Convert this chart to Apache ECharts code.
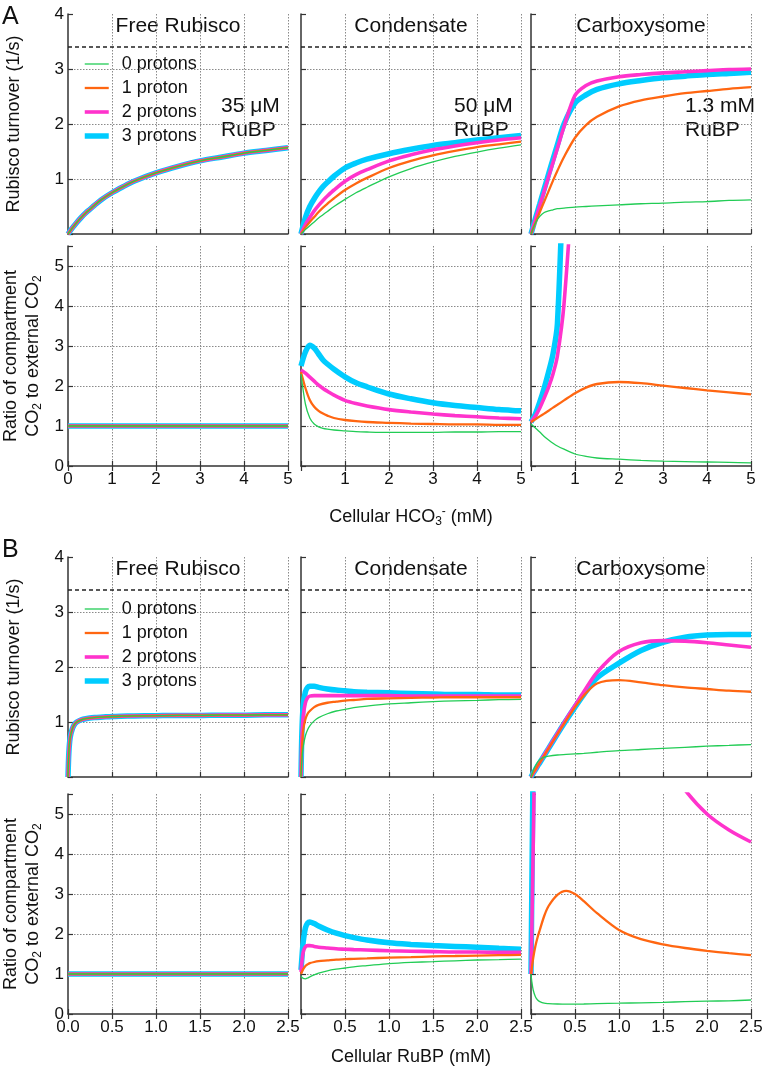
<!DOCTYPE html>
<html><head><meta charset="utf-8">
<script src="https://cdn.jsdelivr.net/npm/echarts@6/dist/echarts.min.js"></script>
<style>html,body{margin:0;padding:0;background:#fff}#c{width:762px;height:1070px}</style>
</head><body><div id="c"></div><script>
// ---------------- DATA ----------------
const seriesNames = ['0 protons', '1 proton', '2 protons', '3 protons'];
const panelTitles = ['Free Rubisco', 'Condensate', 'Carboxysome'];
const vmaxLine = 3.4; // dashed line value in turnover panels

// Section A: x = cellular HCO3- (mM)
const xA = [0, 0.1, 0.2, 0.3, 0.4, 0.5, 0.6, 0.75, 1, 1.25, 1.5, 2, 2.5, 3, 3.5, 4, 4.5, 5];
const aTurnFree  = [0, 0.11, 0.21, 0.30, 0.38, 0.45, 0.52, 0.62, 0.75, 0.86, 0.96, 1.11, 1.23, 1.33, 1.40, 1.47, 1.52, 1.57];
const aTurnCond3 = [0, 0.30, 0.50, 0.64, 0.76, 0.86, 0.94, 1.05, 1.20, 1.29, 1.36, 1.46, 1.54, 1.61, 1.66, 1.71, 1.75, 1.79];
const aTurnCond2 = [0, 0.17, 0.30, 0.42, 0.52, 0.61, 0.69, 0.80, 0.96, 1.08, 1.17, 1.33, 1.44, 1.53, 1.60, 1.66, 1.71, 1.75];
const aTurnCond1 = [0, 0.12, 0.22, 0.31, 0.40, 0.48, 0.55, 0.65, 0.80, 0.92, 1.02, 1.20, 1.33, 1.43, 1.51, 1.58, 1.63, 1.68];
const aTurnCond0 = [0, 0.08, 0.15, 0.22, 0.29, 0.35, 0.41, 0.50, 0.63, 0.75, 0.85, 1.04, 1.19, 1.31, 1.41, 1.49, 1.56, 1.62];
const aTurnCarb3 = [0, 0.28, 0.55, 0.82, 1.09, 1.36, 1.62, 2.00, 2.38, 2.53, 2.63, 2.73, 2.79, 2.84, 2.87, 2.90, 2.92, 2.94];
const aTurnCarb2 = [0, 0.26, 0.52, 0.78, 1.04, 1.30, 1.56, 1.95, 2.52, 2.70, 2.78, 2.86, 2.90, 2.93, 2.95, 2.97, 2.99, 3.00];
const aTurnCarb1 = [0, 0.20, 0.40, 0.59, 0.78, 0.97, 1.15, 1.40, 1.75, 1.98, 2.13, 2.32, 2.43, 2.50, 2.56, 2.60, 2.64, 2.67];
const aTurnCarb0 = [0, 0.20, 0.32, 0.39, 0.42, 0.44, 0.46, 0.47, 0.49, 0.50, 0.51, 0.53, 0.55, 0.56, 0.58, 0.59, 0.61, 0.62];
const aRatioFree  = [1, 1, 1, 1, 1, 1, 1, 1, 1, 1, 1, 1, 1, 1, 1, 1, 1, 1];
const aRatioCond3 = [2.50, 2.85, 3.02, 2.95, 2.80, 2.65, 2.55, 2.42, 2.23, 2.08, 1.98, 1.80, 1.68, 1.58, 1.51, 1.46, 1.41, 1.38];
const aRatioCond2 = [2.40, 2.32, 2.22, 2.12, 2.02, 1.94, 1.87, 1.77, 1.64, 1.56, 1.50, 1.41, 1.35, 1.30, 1.26, 1.23, 1.20, 1.18];
const aRatioCond1 = [2.35, 1.95, 1.65, 1.48, 1.38, 1.31, 1.26, 1.20, 1.15, 1.12, 1.10, 1.08, 1.06, 1.05, 1.04, 1.04, 1.03, 1.03];
const aRatioCond0 = [2.30, 1.55, 1.20, 1.05, 0.98, 0.94, 0.92, 0.90, 0.88, 0.86, 0.85, 0.84, 0.84, 0.84, 0.85, 0.85, 0.86, 0.86];
const aRatioCarb3 = [1.10, 1.30, 1.60, 1.95, 2.35, 2.80, 3.55, 8.0, null, null, null, null, null, null, null, null, null, null];
const aRatioCarb2 = [1.10, 1.25, 1.45, 1.70, 1.97, 2.30, 2.75, 4.05, 8.0, null, null, null, null, null, null, null, null, null];
const aRatioCarb1 = [1.10, 1.17, 1.24, 1.31, 1.38, 1.46, 1.53, 1.64, 1.82, 1.96, 2.05, 2.10, 2.07, 2.01, 1.95, 1.89, 1.84, 1.79];
const aRatioCarb0 = [1.05, 0.95, 0.85, 0.74, 0.65, 0.57, 0.50, 0.42, 0.30, 0.24, 0.20, 0.17, 0.14, 0.12, 0.11, 0.10, 0.09, 0.08];

// Section B: x = cellular RuBP (mM)
const xB = [0, 0.01, 0.025, 0.05, 0.075, 0.1, 0.15, 0.2, 0.3, 0.4, 0.5, 0.6, 0.75, 1, 1.25, 1.5, 1.75, 2, 2.25, 2.5];
const bTurnFree  = [0, 0.45, 0.72, 0.88, 0.96, 1.00, 1.04, 1.06, 1.08, 1.09, 1.10, 1.105, 1.11, 1.115, 1.12, 1.12, 1.125, 1.125, 1.13, 1.13];
const bTurnCond3 = [0, 0.80, 1.30, 1.55, 1.63, 1.65, 1.65, 1.63, 1.60, 1.58, 1.57, 1.55, 1.54, 1.53, 1.52, 1.51, 1.50, 1.50, 1.49, 1.49];
const bTurnCond2 = [0, 0.70, 1.10, 1.35, 1.44, 1.47, 1.48, 1.48, 1.48, 1.48, 1.48, 1.48, 1.48, 1.48, 1.47, 1.47, 1.47, 1.47, 1.47, 1.47];
const bTurnCond1 = [0, 0.50, 0.85, 1.05, 1.15, 1.20, 1.27, 1.31, 1.35, 1.37, 1.39, 1.40, 1.42, 1.43, 1.44, 1.445, 1.45, 1.45, 1.45, 1.45];
const bTurnCond0 = [0, 0.30, 0.55, 0.75, 0.86, 0.93, 1.02, 1.08, 1.15, 1.20, 1.23, 1.26, 1.29, 1.33, 1.35, 1.37, 1.385, 1.395, 1.405, 1.41];
const bTurnCarb3 = [0, 0.03, 0.07, 0.13, 0.20, 0.26, 0.39, 0.52, 0.78, 1.03, 1.27, 1.50, 1.80, 2.07, 2.30, 2.45, 2.54, 2.58, 2.59, 2.59];
const bTurnCarb2 = [0, 0.03, 0.07, 0.13, 0.20, 0.27, 0.40, 0.53, 0.79, 1.05, 1.30, 1.55, 1.90, 2.28, 2.44, 2.48, 2.47, 2.44, 2.40, 2.36];
const bTurnCarb1 = [0, 0.03, 0.07, 0.13, 0.20, 0.26, 0.39, 0.52, 0.78, 1.03, 1.27, 1.48, 1.70, 1.76, 1.72, 1.67, 1.63, 1.60, 1.57, 1.55];
const bTurnCarb0 = [0, 0.05, 0.12, 0.20, 0.27, 0.32, 0.36, 0.38, 0.40, 0.41, 0.42, 0.43, 0.45, 0.48, 0.50, 0.52, 0.54, 0.56, 0.575, 0.59];
const bRatioFree  = [1, 1, 1, 1, 1, 1, 1, 1, 1, 1, 1, 1, 1, 1, 1, 1, 1, 1, 1, 1];
const bRatioCond3 = [1.10, 1.40, 1.80, 2.15, 2.27, 2.30, 2.26, 2.20, 2.10, 2.02, 1.96, 1.91, 1.85, 1.78, 1.74, 1.71, 1.69, 1.67, 1.645, 1.62];
const bRatioCond2 = [1.05, 1.30, 1.55, 1.68, 1.71, 1.71, 1.69, 1.67, 1.65, 1.63, 1.62, 1.61, 1.60, 1.58, 1.57, 1.56, 1.55, 1.55, 1.54, 1.54];
const bRatioCond1 = [1.00, 1.05, 1.12, 1.20, 1.24, 1.27, 1.30, 1.32, 1.34, 1.36, 1.37, 1.38, 1.39, 1.41, 1.42, 1.44, 1.45, 1.46, 1.47, 1.48];
const bRatioCond0 = [0.95, 0.92, 0.89, 0.88, 0.90, 0.93, 0.98, 1.02, 1.08, 1.12, 1.15, 1.18, 1.21, 1.26, 1.29, 1.31, 1.33, 1.35, 1.36, 1.37];
const bRatioCarb3 = [1.0, 3.2, 6.5, 12, null, null, null, null, null, null, null, null, null, null, null, null, null, null, null, null];
const bRatioCarb2 = [1.0, 2.2, 4.2, 7.5, 9, 11, 13, 14, 14.5, 14, 13, 12, 10.5, 8.8, 7.5, 6.4, 5.6, 5.0, 4.6, 4.3];
const bRatioCarb1 = [1.00, 1.15, 1.40, 1.70, 1.92, 2.10, 2.45, 2.70, 2.98, 3.08, 3.00, 2.82, 2.52, 2.10, 1.87, 1.74, 1.65, 1.58, 1.52, 1.47];
const bRatioCarb0 = [1.00, 0.80, 0.60, 0.43, 0.35, 0.31, 0.27, 0.26, 0.25, 0.245, 0.245, 0.25, 0.26, 0.27, 0.28, 0.29, 0.31, 0.32, 0.33, 0.35];

// ---------------- STYLE / LAYOUT ----------------
const FONT = '"Liberation Sans", Arial, Helvetica, sans-serif';
const colors = ['#22cc55', '#ff6611', '#ff33cc', '#00ccff'];
const widths = [1.3, 2.3, 3.6, 5.5];
const AX = '#333';
const cols = [68, 301, 531];
const W = 220;
const rows = [
  { top: 14,  height: 220, ymax: 4,   sec: 'A', kind: 'turn' },
  { top: 246, height: 220, ymax: 5.5, sec: 'A', kind: 'ratio' },
  { top: 557, height: 220, ymax: 4,   sec: 'B', kind: 'turn' },
  { top: 794, height: 220, ymax: 5.5, sec: 'B', kind: 'ratio' }
];
const panelData = [
  [[aTurnFree, aTurnFree, aTurnFree, aTurnFree], [aTurnCond0, aTurnCond1, aTurnCond2, aTurnCond3], [aTurnCarb0, aTurnCarb1, aTurnCarb2, aTurnCarb3]],
  [[aRatioFree, aRatioFree, aRatioFree, aRatioFree], [aRatioCond0, aRatioCond1, aRatioCond2, aRatioCond3], [aRatioCarb0, aRatioCarb1, aRatioCarb2, aRatioCarb3]],
  [[bTurnFree, bTurnFree, bTurnFree, bTurnFree], [bTurnCond0, bTurnCond1, bTurnCond2, bTurnCond3], [bTurnCarb0, bTurnCarb1, bTurnCarb2, bTurnCarb3]],
  [[bRatioFree, bRatioFree, bRatioFree, bRatioFree], [bRatioCond0, bRatioCond1, bRatioCond2, bRatioCond3], [bRatioCarb0, bRatioCarb1, bRatioCarb2, bRatioCarb3]]
];

const grid = [], xAxis = [], yAxis = [], series = [];
let gi = 0;
rows.forEach((r, ri) => {
  cols.forEach((left, ci) => {
    const isA = r.sec === 'A';
    const xs = isA ? xA : xB;
    const xmax = isA ? 5 : 2.5, xint = isA ? 1 : 0.5;
    grid.push({ left: left, top: r.top, width: W, height: r.height, containLabel: false, outerBoundsMode: 'none' });
    const xi = xAxis.length;
    xAxis.push({
      type: 'value', gridIndex: gi, min: 0, max: xmax, interval: xint, position: 'bottom',
      axisLine: { show: true, onZero: false, lineStyle: { color: AX, width: 1.5 } },
      axisTick: { show: true, inside: true, length: 5, lineStyle: { color: AX, width: 1.2 } },
      axisLabel: { show: r.kind === 'ratio', fontSize: 17, color: '#111', fontFamily: FONT, margin: 5,
        formatter: v => (ci > 0 && v === 0) ? '' : (isA ? String(v) : v.toFixed(1)) },
      splitLine: { show: true, showMinLine: false, lineStyle: { type: [1.5, 1.5], color: '#8a8a8a', width: 1 } }
    });
    if (r.kind === 'ratio') {
      xAxis.push({
        type: 'value', gridIndex: gi, min: 0, max: xmax, interval: xint, position: 'top',
        axisLine: { show: false }, axisLabel: { show: false }, splitLine: { show: false },
        axisTick: { show: true, inside: true, length: 5, lineStyle: { color: AX, width: 1.2 } }
      });
    }
    yAxis.push({
      type: 'value', gridIndex: gi, min: 0, max: r.ymax, interval: 1,
      axisLine: { show: true, onZero: false, lineStyle: { color: AX, width: 1.5 } },
      axisTick: { show: true, inside: true, length: 5, lineStyle: { color: AX, width: 1.2 } },
      axisLabel: { show: ci === 0, fontSize: 17, color: '#111', fontFamily: FONT, margin: 4,
        formatter: v => (Number.isInteger(v) && !(r.kind === 'turn' && v === 0)) ? String(v) : '' },
      splitLine: { show: true, showMinLine: false, showMaxLine: false, lineStyle: { type: [1.5, 1.5], color: '#8a8a8a', width: 1 } }
    });
    const ys = panelData[ri][ci];
    [3, 2, 1, 0].forEach(p => {
      const s = {
        type: 'line', name: seriesNames[p], xAxisIndex: xi, yAxisIndex: gi,
        data: xs.map((xv, k) => [xv, ys[p][k]]),
        symbol: 'none', showSymbol: false, smooth: 0.3, clip: true, silent: true,
        connectNulls: false,
        lineStyle: { color: colors[p], width: widths[p] },
        itemStyle: { color: colors[p] },
        emphasis: { disabled: true }
      };
      if (p === 0 && r.kind === 'turn') {
        s.markLine = {
          silent: true, symbol: 'none', label: { show: false },
          lineStyle: { type: [4, 3], color: '#222', width: 1.5 },
          emphasis: { disabled: true },
          data: [{ yAxis: vmaxLine }]
        };
      }
      series.push(s);
    });
    gi++;
  });
});

const legendBase = (top) => ({
  left: 82, top: top, orient: 'vertical', itemWidth: 24, itemHeight: 14, itemGap: 4, padding: 0,
  selectedMode: false,
  textStyle: { fontSize: 18, fontFamily: FONT, color: '#111', lineHeight: 20, padding: [0, 0, 0, 8] },
  itemStyle: { color: 'rgba(0,0,0,0)', borderWidth: 0, opacity: 0 },
  data: seriesNames.map((n, p) => ({ name: n, lineStyle: { width: widths[p], color: colors[p] },
    itemStyle: { color: 'rgba(0,0,0,0)', borderWidth: 0, opacity: 0 } }))
});

const txt = (x, y, text, size, align, extra) => Object.assign({
  type: 'text', x: x, y: y, silent: true,
  style: { text: text, fontSize: size, fontFamily: FONT, fill: '#111', align: align || 'center', verticalAlign: 'middle' }
}, extra || {});

const ratioRich = {
  n: { fontSize: 18, lineHeight: 22, fontFamily: FONT, fill: '#111' },
  s: { fontSize: 12, lineHeight: 10, fontFamily: FONT, fill: '#111', verticalAlign: 'bottom' }
};
const ratioText = '{n|Ratio of compartment}\n{n|CO}{s|2}{n| to external CO}{s|2}';

const graphic = [
  txt(2, 17, 'A', 25, 'left'),
  txt(2, 550, 'B', 25, 'left'),
  txt(178, 26, panelTitles[0], 21), txt(411, 26, panelTitles[1], 21), txt(641, 26, panelTitles[2], 21),
  txt(178, 569, panelTitles[0], 21), txt(411, 569, panelTitles[1], 21), txt(641, 569, panelTitles[2], 21),
  txt(221, 106, '35 μM', 21, 'left'), txt(221, 130, 'RuBP', 21, 'left'),
  txt(454, 106, '50 μM', 21, 'left'), txt(454, 130, 'RuBP', 21, 'left'),
  txt(685, 106, '1.3 mM', 21, 'left'), txt(685, 130, 'RuBP', 21, 'left'),
  txt(14, 124, 'Rubisco turnover (1/s)', 18, 'center', { rotation: Math.PI / 2 }),
  txt(14, 667, 'Rubisco turnover (1/s)', 18, 'center', { rotation: Math.PI / 2 }),
  { type: 'text', x: 22, y: 356, rotation: Math.PI / 2, silent: true,
    style: { text: ratioText, rich: ratioRich, align: 'center', verticalAlign: 'middle', fontFamily: FONT, fontSize: 18 } },
  { type: 'text', x: 22, y: 904, rotation: Math.PI / 2, silent: true,
    style: { text: ratioText, rich: ratioRich, align: 'center', verticalAlign: 'middle', fontFamily: FONT, fontSize: 18 } },
  { type: 'text', x: 411, y: 517, silent: true,
    style: { text: '{n|Cellular HCO}{s|3}{p|-}{n| (mM)}', align: 'center', verticalAlign: 'middle', fontFamily: FONT, fontSize: 18,
      rich: { n: { fontSize: 18, lineHeight: 22, fontFamily: FONT, fill: '#111' },
              s: { fontSize: 12, lineHeight: 10, fontFamily: FONT, fill: '#111', verticalAlign: 'bottom' },
              p: { fontSize: 12, lineHeight: 10, fontFamily: FONT, fill: '#111', verticalAlign: 'top' } } } },
  txt(411, 1057, 'Cellular RuBP (mM)', 18)
];

const chart = echarts.init(document.getElementById('c'), null, { renderer: 'canvas', width: 762, height: 1070 });
chart.setOption({
  backgroundColor: '#ffffff',
  animation: false,
  textStyle: { fontFamily: FONT },
  grid: grid, xAxis: xAxis, yAxis: yAxis, series: series,
  legend: [legendBase(54), legendBase(599)],
  graphic: graphic
});
</script></body></html>
